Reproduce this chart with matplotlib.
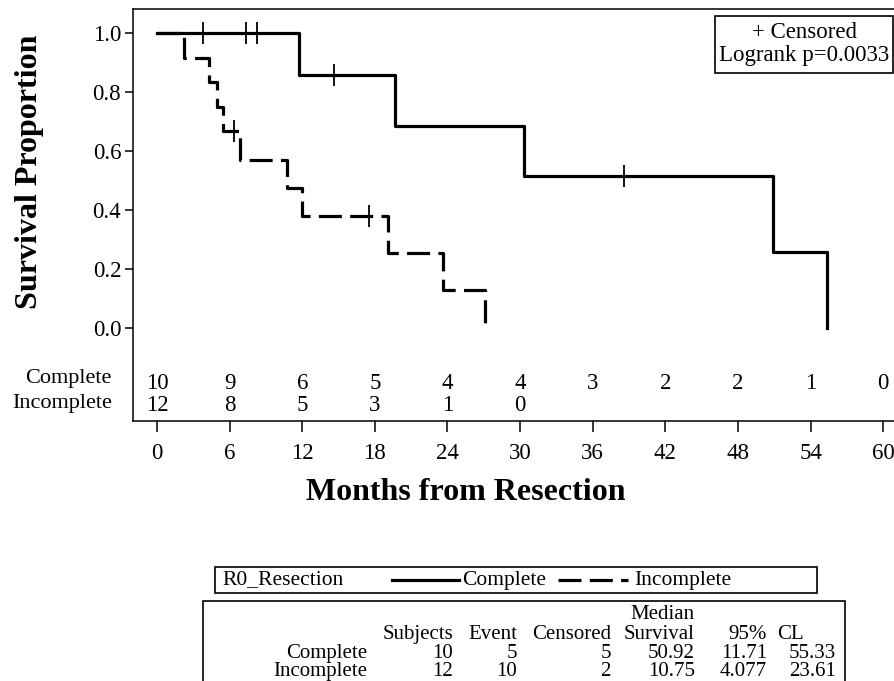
import numpy as np
import matplotlib
matplotlib.use('Agg')
import matplotlib.pyplot as plt
from matplotlib.patches import Rectangle
from matplotlib.lines import Line2D

plt.rcParams['font.family'] = ['Liberation Serif', 'DejaVu Serif']

# Kaplan-Meier steps
complete_t = [0, 11.71, 19.7, 30.3, 50.92, 55.33]
complete_s = [1.0, 0.857, 0.686, 0.514, 0.257, 0.0]
complete_cens_t = [3.83, 7.38, 8.26, 14.65, 38.6]
complete_cens_s = [1.0, 1.0, 1.0, 0.857, 0.514]

incomplete_t = [0, 2.2, 4.26, 5.0, 5.45, 6.9, 10.75, 12.0, 19.1, 23.61, 27.1]
incomplete_s = [1.0, 0.917, 0.833, 0.75, 0.667, 0.571, 0.476, 0.381, 0.254, 0.127, 0.0]
incomplete_cens_t = [6.4, 17.5]
incomplete_cens_s = [0.667, 0.381]

# numbers at risk
risk_times = [0, 6, 12, 18, 24, 30, 36, 42, 48, 54, 60]
risk_complete = [10, 9, 6, 5, 4, 4, 3, 2, 2, 1, 0]
risk_incomplete = [12, 8, 5, 3, 1, 0]

# summary table
groups = ['Complete', 'Incomplete']
subjects = [10, 12]
events = [5, 10]
censored = [5, 2]
median_surv = ['50.92', '10.75']
cl_low = ['11.71', '4.077']
cl_high = ['55.33', '23.61']

W, H = 895, 681
fig = plt.figure(figsize=(W / 100, H / 100), dpi=100)

def fx(px):
    return px / W

def fy(py):
    return 1 - py / H

ax_l, ax_r, ax_t, ax_b = 133, 905, 9, 421
ax = fig.add_axes([fx(ax_l), fy(ax_b), fx(ax_r - ax_l), (ax_b - ax_t) / H])

lw = 2.3
ax.step(complete_t, complete_s, where='post', color='black', lw=lw)
ax.step(incomplete_t, incomplete_s, where='post', color='black', lw=lw,
        dashes=(7.2, 2.6))
ax.plot(complete_cens_t, complete_cens_s, ls='none', marker='|', ms=16,
        mew=1.3, color='black')
ax.plot(incomplete_cens_t, incomplete_cens_s, ls='none', marker='|', ms=16,
        mew=1.3, color='black')

ax.set_xlim(-1.98, 61.8)
ax.set_ylim(-0.316, 1.082)
ax.set_xticks(range(0, 61, 6))
ax.set_yticks(np.arange(0, 1.01, 0.2))
ax.set_yticklabels([f'{v:.1f}' for v in np.arange(0, 1.01, 0.2)])
fs = 16.5
ax.tick_params(axis='both', labelsize=fs, width=1.1, direction='out')
ax.tick_params(axis='x', length=8, pad=8)
ax.tick_params(axis='y', length=6, pad=2.5)
for sp in ax.spines.values():
    sp.set_linewidth(1.1)

# at-risk rows inside the axes
for t, n in zip(risk_times, risk_complete):
    ax.text(t, -0.19, str(n), ha='center', va='center', fontsize=fs)
for t, n in zip(risk_times, risk_incomplete):
    ax.text(t, -0.265, str(n), ha='center', va='center', fontsize=fs)
fig.text(fx(112), fy(379), 'Complete', ha='right', va='center', fontsize=16)
fig.text(fx(112), fy(404), 'Incomplete', ha='right', va='center', fontsize=16)

fig.text(fx(30), fy(172), 'Survival Proportion', rotation=90, ha='center',
         va='center', fontsize=23, fontweight='bold')
fig.text(fx(466), fy(493), 'Months from Resection', ha='center',
         va='center', fontsize=23, fontweight='bold')

# censored / logrank box
fig.add_artist(Rectangle((fx(715), fy(73)), fx(893 - 715), (73 - 16) / H,
                         fill=False, lw=1.2, ec='black', transform=fig.transFigure))
fig.text(fx(804), fy(32), '+ Censored', ha='center', va='center', fontsize=16.5)
fig.text(fx(804), fy(55), 'Logrank p=0.0033', ha='center', va='center', fontsize=16.5)

# group legend box
fig.add_artist(Rectangle((fx(215), fy(593)), fx(817 - 215), (593 - 567) / H,
                         fill=False, lw=1.2, ec='black', transform=fig.transFigure))
fs_leg = 15.5
fig.text(fx(222), fy(580), 'R0_Resection', ha='left', va='center', fontsize=fs_leg)
fig.add_artist(Line2D([fx(392), fx(459)], [fy(580), fy(580)], color='black',
                      lw=lw, transform=fig.transFigure))
fig.text(fx(462), fy(580), 'Complete', ha='left', va='center', fontsize=fs_leg)
fig.add_artist(Line2D([fx(558), fx(628)], [fy(580), fy(580)], color='black',
                      lw=lw, dashes=(7.2, 2.6), transform=fig.transFigure))
fig.text(fx(634), fy(580), 'Incomplete', ha='left', va='center', fontsize=fs_leg)

# summary table
fig.add_artist(Rectangle((fx(203), fy(700)), fx(845 - 203), (700 - 601) / H,
                         fill=False, lw=1.2, ec='black', transform=fig.transFigure,
                         clip_on=False))
col_r = [453, 517, 611, 695, 767, 836]
head2 = ['Subjects', 'Event', 'Censored', 'Survival']
fs_tab = 15
fig.text(fx(695), fy(619), 'Median', ha='right', va='baseline', fontsize=fs_tab)
for x, h in zip(col_r[:4], head2):
    fig.text(fx(x), fy(639), h, ha='right', va='baseline', fontsize=fs_tab)
fig.text(fx(767), fy(639), '95%', ha='right', va='baseline', fontsize=fs_tab)
fig.text(fx(777), fy(639), 'CL', ha='left', va='baseline', fontsize=fs_tab)
row_y = [658, 676]
for i, g in enumerate(groups):
    y = fy(row_y[i])
    fig.text(fx(367), y, g, ha='right', va='baseline', fontsize=fs_tab)
    vals = [str(subjects[i]), str(events[i]), str(censored[i]),
            median_surv[i], cl_low[i], cl_high[i]]
    for x, v in zip(col_r, vals):
        fig.text(fx(x), y, v, ha='right', va='baseline', fontsize=fs_tab)

fig.savefig('out.png', dpi=100)
